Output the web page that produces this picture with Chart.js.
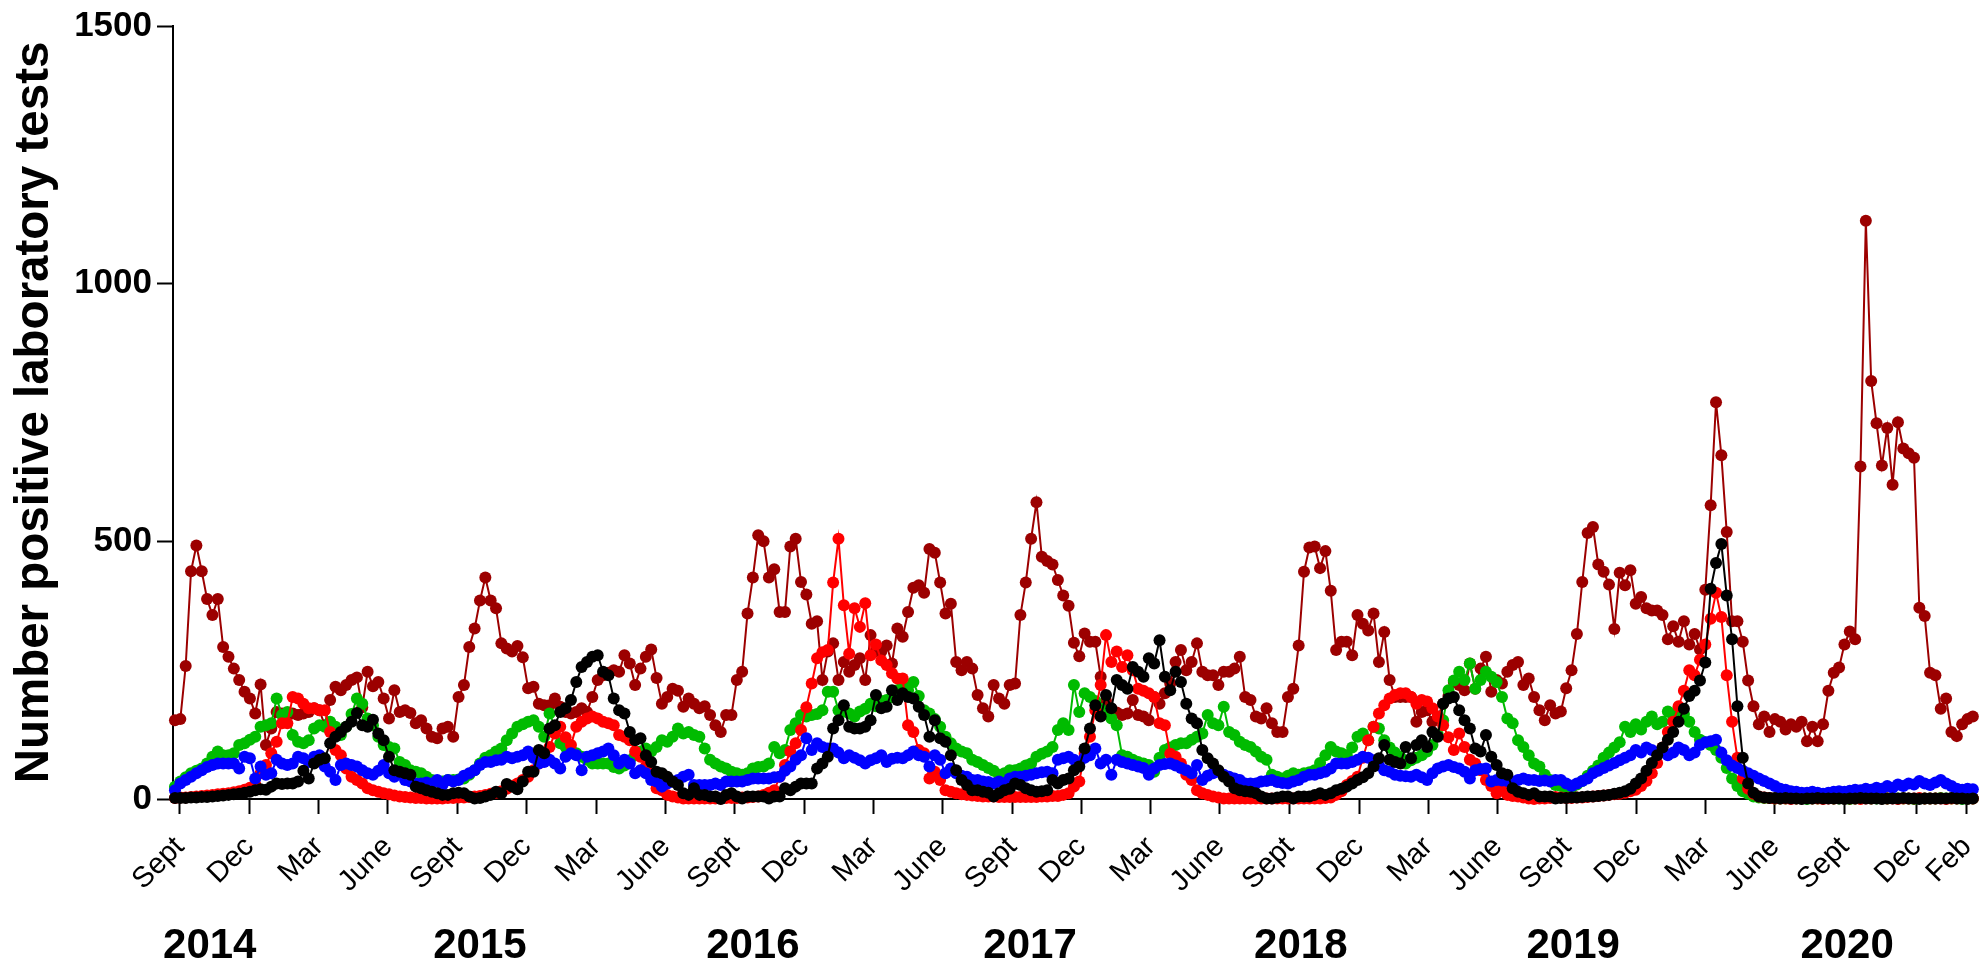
<!DOCTYPE html>
<html>
<head>
<meta charset="utf-8">
<script src="https://cdn.jsdelivr.net/npm/chart.js@4.4.1/dist/chart.umd.min.js"></script>
<style>
html,body{margin:0;padding:0;background:#ffffff;}
#wrap{width:1981px;height:963px;}
</style>
</head>
<body>
<div id="wrap"><canvas id="c" width="1981" height="963"></canvas></div>
<script>
// Weekly counts, week 0 = first week of Sept 2014
const darkRedSeries = [
153,155,258,442,492,442,388,357,388,295,
276,253,231,208,195,166,222,105,137,169,
166,163,166,163,166,169,176,172,143,192,
218,211,221,231,236,178,247,219,227,195,
156,211,169,172,167,147,153,137,121,118,
137,140,121,198,221,295,331,385,430,385,
370,302,292,286,297,275,215,218,185,182,
182,195,179,169,166,169,176,169,198,231,
240,245,250,247,279,263,221,253,276,290,
235,185,198,214,210,179,195,185,176,180,
163,143,130,163,163,231,247,360,430,512,
500,430,446,363,363,490,505,421,397,340,
345,231,286,302,231,266,247,260,273,231,
318,286,286,298,263,331,315,363,410,415,
400,485,478,420,360,379,266,250,266,253,
202,176,160,221,195,185,221,224,357,420,
505,576,470,462,455,425,395,375,303,277,
321,305,305,237,190,175,168,163,166,192,
163,160,153,198,185,205,224,266,289,250,
266,302,247,240,240,221,247,247,253,276,
198,192,160,156,176,147,130,130,198,214,
298,441,488,490,448,481,404,289,305,305,
279,357,340,327,360,266,324,231,198,198,
198,198,150,169,172,150,160,185,200,227,
221,211,263,214,253,276,208,231,224,247,
260,266,221,234,198,172,153,182,166,170,
215,250,320,421,516,528,455,441,416,330,
439,415,444,379,392,370,366,366,357,310,
335,305,345,300,320,290,406,570,770,667,
518,345,345,305,230,180,145,160,130,155,
150,135,145,140,150,112,140,112,145,210,
245,255,300,325,310,645,1122,811,729,647,
720,610,731,680,671,662,371,355,245,240,
175,195,130,122,145,155,160
];
const redSeries = [
2,3,3,4,5,6,7,8,9,10,
11,13,15,18,22,28,50,66,89,111,
147,147,198,195,185,176,176,172,172,130,
95,85,59,43,37,30,21,17,14,11,
9,7,5,4,3,2,2,1,1,1,
1,2,2,3,3,4,5,6,8,10,
12,15,20,25,30,37,43,56,69,80,
101,127,140,120,105,140,150,156,160,156,
150,147,143,124,121,114,92,82,63,50,
21,17,8,5,3,1,1,1,1,1,
1,1,1,2,2,2,3,3,4,5,
8,12,17,43,66,92,108,134,178,224,
273,285,289,420,505,376,282,370,334,380,
279,300,269,260,244,234,234,143,130,95,
89,40,53,37,17,14,11,9,8,7,
6,5,5,5,4,4,4,4,4,4,
4,4,5,5,6,6,8,11,24,34,
88,121,172,221,318,266,286,256,279,250,
214,210,205,198,147,143,88,82,69,47,
37,17,11,8,5,3,1,1,1,1,
1,1,1,1,1,1,1,1,1,1,
1,1,1,1,1,2,3,8,15,27,
35,43,80,114,140,166,182,195,202,205,
205,198,185,192,189,176,160,143,120,95,
127,101,76,69,56,37,25,11,21,8,
6,5,3,1,0,1,1,2,4,3,
2,2,3,3,4,5,6,7,8,9,
10,12,15,18,25,35,50,70,100,130,
150,180,210,250,240,270,300,350,400,353,
240,150,80,40,20,10,5,3,2,1,
1,1,0,1,1,2,1,1,0,1,
1,2,1,1,1,0,1,1,2,1,
1,1,0,1,1,1,2,1,1,1,
1,0,1,1,2,1,1
];
const greenSeries = [
24,34,42,50,55,59,69,82,92,85,
85,89,105,108,115,121,140,143,147,195,
163,169,124,111,108,114,137,143,140,150,
140,124,140,165,195,185,156,143,121,105,
101,98,72,66,56,53,50,43,37,34,
34,37,37,38,40,47,56,69,80,85,
92,98,114,127,140,145,150,153,140,121,
166,140,108,101,95,89,82,76,69,69,
69,69,62,59,65,75,85,92,98,92,
101,114,111,121,137,127,130,124,121,98,
76,69,63,59,53,50,47,50,59,62,
63,69,101,89,95,134,147,163,160,163,
165,172,208,208,172,170,166,160,170,175,
185,180,190,192,198,211,221,211,227,200,
172,166,155,140,121,108,98,92,89,76,
72,66,60,55,47,50,56,56,59,65,
69,82,88,92,101,134,147,134,221,169,
205,198,190,175,165,156,143,85,82,76,
72,69,66,53,80,95,100,105,108,108,
115,121,127,163,147,143,179,130,124,111,
105,101,92,82,76,47,43,40,45,50,
47,50,52,56,70,85,101,92,89,85,
100,121,127,114,140,137,114,100,90,82,
69,75,80,85,92,105,125,153,211,230,
247,231,263,214,231,247,237,227,198,156,
147,114,101,85,69,63,47,37,27,25,
20,22,28,35,45,55,65,80,90,100,
110,140,130,145,135,150,160,145,150,170,
160,175,165,150,130,115,110,105,95,80,
60,40,25,15,10,5,3,2,2,1,
1,1,2,1,1,0,1,1,1,2,
1,1,1,0,1,1,2,1,1,1,
1,2,1,1,1,0,1,1,1,1,
2,1,1,1,0,1,1
];
const blueSeries = [
17,30,37,43,50,56,62,66,69,69,
69,69,59,82,79,40,63,47,50,76,
69,66,69,82,79,72,82,85,63,53,
37,66,69,66,63,56,50,47,55,66,
50,43,50,37,34,30,30,32,30,37,
27,37,34,37,45,50,56,66,72,72,
75,76,82,79,82,85,92,80,69,72,
76,69,59,82,89,85,56,82,85,89,
92,98,85,69,76,69,50,56,50,37,
34,24,30,34,37,43,47,27,27,27,
27,30,27,34,34,34,34,37,40,40,
40,40,42,43,55,63,76,85,118,95,
108,101,98,98,90,79,85,80,75,69,
75,79,85,72,78,80,79,85,92,85,
82,63,85,76,50,59,50,45,43,37,
37,34,33,30,34,30,40,43,43,45,
47,50,52,53,50,76,79,82,76,69,
80,85,98,69,76,47,76,72,69,66,
63,60,47,59,66,68,69,65,60,56,
50,66,37,45,50,53,47,43,40,37,
30,30,30,34,35,37,33,31,30,34,
37,43,47,47,50,53,59,69,69,69,
72,76,82,80,75,65,56,53,47,45,
44,43,47,42,37,50,59,63,66,62,
59,53,40,56,58,59,34,37,36,35,
34,37,40,37,37,35,36,34,37,37,
30,25,30,35,40,50,55,60,65,70,
75,80,85,95,90,100,95,90,95,85,
90,100,95,85,90,105,110,112,115,90,
75,65,60,55,50,45,40,35,30,25,
20,18,15,14,12,12,14,12,10,12,
14,15,14,16,18,17,20,18,22,20,
25,22,28,25,30,28,35,30,27,32,
37,30,25,20,18,20,19
];
const blackSeries = [
2,2,2,3,3,4,4,5,6,7,
8,9,10,12,14,17,19,18,24,30,
29,30,30,34,55,40,69,76,79,108,
121,130,140,150,167,143,140,154,127,114,
82,56,53,50,47,24,21,17,14,11,
8,8,11,12,11,5,1,2,5,8,
14,11,29,24,19,34,53,53,95,89,
137,143,169,176,192,227,256,266,276,279,
247,240,195,172,166,130,114,118,85,72,
53,50,43,34,27,11,8,21,8,8,
5,5,0,8,11,5,1,5,5,5,
5,1,5,5,21,17,24,30,30,30,
59,69,82,137,153,182,140,137,137,140,
153,202,176,179,211,192,205,198,195,179,
163,121,153,118,111,85,56,37,27,17,
17,14,12,5,11,17,20,30,27,21,
17,14,15,17,37,30,37,40,56,63,
98,137,182,160,202,176,231,221,214,256,
247,237,273,263,308,237,211,247,227,185,
156,147,95,79,69,56,43,34,21,17,
15,14,11,5,1,1,3,5,5,1,
5,5,5,8,11,8,11,17,20,24,
30,37,42,50,63,79,105,76,72,69,
101,79,105,114,101,130,121,185,195,198,
172,153,137,98,92,124,82,66,50,47,
21,14,11,8,11,5,5,5,1,2,
2,3,3,4,5,5,6,7,8,10,
12,15,20,30,40,55,70,85,100,115,
130,150,175,200,210,230,265,408,458,495,
395,310,180,80,30,12,5,3,2,2,
1,2,1,1,0,1,1,2,1,1,
1,1,0,1,1,2,1,1,1,0,
1,1,1,2,1,1,0,1,1,1,
1,1,2,1,1,0,1
];

// Axis ticks (positions in weeks since start)
const monthTickWeeks = [0.9,13.9,26.9,39.8,52.8,65.7,78.7,91.7,104.6,117.6,130.5,143.5,156.5,169.4,182.4,195.3,208.3,221.3,234.2,247.2,260.1,273.1,286.1,299.0,312.0,325.5,334.9];
const monthTickLabels = ['Sept','Dec','Mar','June','Sept','Dec','Mar','June','Sept','Dec','Mar','June','Sept','Dec','Mar','June','Sept','Dec','Mar','June','Sept','Dec','Mar','June','Sept','Dec','Feb'];
const yearTickWeeks = [6.5,57.0,108.0,159.8,210.4,261.3,312.5];
const yearTickLabels = ['2014','2015','2016','2017','2018','2019','2020'];
const yTickValues = [0,500,1000,1500];
const yAxisTitle = 'Number positive laboratory tests';

const FONT = "'Liberation Sans', Arial, Helvetica, sans-serif";

function pts(arr){ return arr.map((v,i)=>({x:i,y:v})); }
function ds(label, arr, color){
  return {label, data: pts(arr), borderColor: color, backgroundColor: color,
    pointBackgroundColor: color, pointBorderColor: color, pointBorderWidth: 0,
    pointRadius: 6, borderWidth: 2, tension: 0, clip: false, fill: false};
}

const xMin = -0.37, xMax = 336.4;

new Chart(document.getElementById('c'), {
  type: 'line',
  data: { datasets: [
    ds('black', blackSeries, '#000000'),
    ds('blue', blueSeries, '#0000ff'),
    ds('red', redSeries, '#ff0000'),
    ds('green', greenSeries, '#00bb00'),
    ds('darkred', darkRedSeries, '#9c0000')
  ]},
  options: {
    responsive: false, animation: false, devicePixelRatio: 1,
    layout: { padding: { top: 25, right: 6, bottom: 0, left: 0 } },
    plugins: { legend: { display: false }, tooltip: { enabled: false } },
    scales: {
      x: {
        type: 'linear', position: 'bottom', min: xMin, max: xMax, weight: 0,
        afterBuildTicks: s => { s.ticks = monthTickWeeks.map(v => ({ value: v })); },
        afterFit: s => { s.height = 108; s.paddingLeft = 0; s.paddingRight = 0; },
        ticks: { autoSkip: false, maxRotation: 45, minRotation: 45, color: '#000',
          font: { family: FONT, size: 29 }, padding: 16,
          callback: (v, i) => monthTickLabels[i] },
        grid: { display: true, drawOnChartArea: false, drawTicks: true, tickLength: 15, tickWidth: 2, tickColor: '#000' },
        border: { display: true, color: '#000', width: 2 }
      },
      years: {
        type: 'linear', position: 'bottom', min: xMin, max: xMax, weight: 1,
        afterBuildTicks: s => { s.ticks = yearTickWeeks.map(v => ({ value: v })); },
        afterFit: s => { s.height = 56; s.paddingLeft = 0; s.paddingRight = 0; },
        ticks: { autoSkip: false, maxRotation: 0, minRotation: 0, color: '#000',
          font: { family: FONT, size: 42, weight: 'bold' }, padding: 14,
          callback: (v, i) => yearTickLabels[i] },
        grid: { display: false, drawTicks: false },
        border: { display: false }
      },
      y: {
        type: 'linear', min: 0, max: 1500,
        afterBuildTicks: s => { s.ticks = yTickValues.map(v => ({ value: v })); },
        afterFit: s => { s.width = 173; },
        ticks: { color: '#000', font: { family: FONT, size: 35, weight: 'bold' }, padding: 5,
          callback: v => String(v) },
        grid: { display: true, drawOnChartArea: false, drawTicks: true, tickLength: 16, tickWidth: 2, tickColor: '#000' },
        border: { display: true, color: '#000', width: 2 },
        title: { display: true, text: yAxisTitle, color: '#000',
          font: { family: FONT, size: 47.5, weight: 'bold' }, padding: { top: 6, bottom: 0 } }
      }
    }
  }
});
</script>
</body>
</html>
